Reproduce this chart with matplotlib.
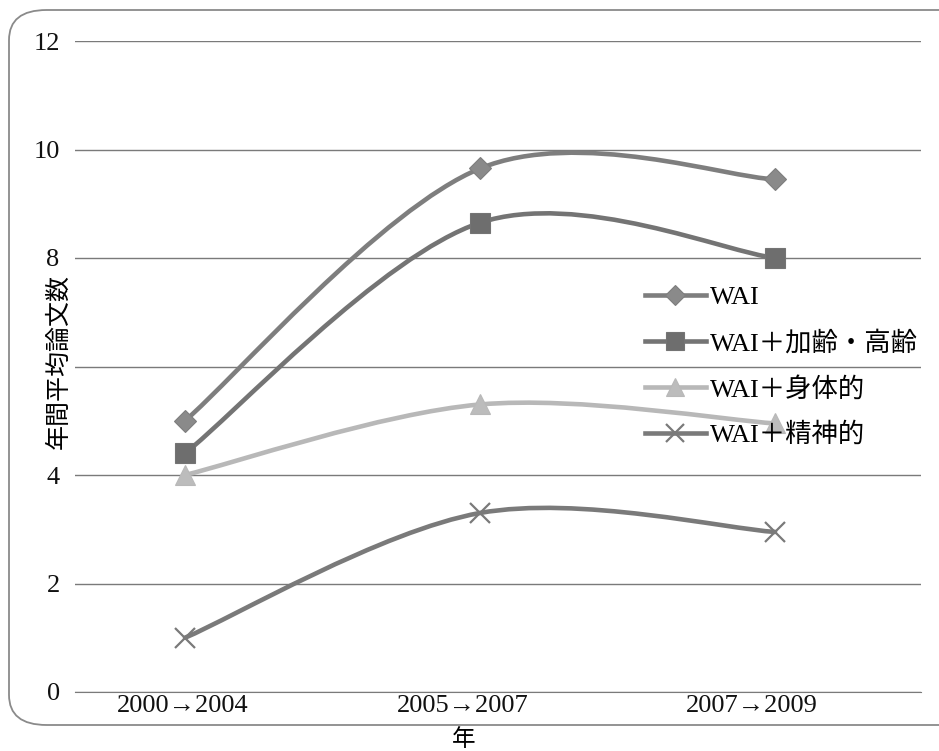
import matplotlib.pyplot as plt
import numpy as np
from matplotlib.path import Path
from matplotlib.patches import PathPatch, FancyBboxPatch
from matplotlib.lines import Line2D
from matplotlib.transforms import ScaledTranslation

# Values
periods = ['2000→2004', '2005→2007', '2007→2009']
series_names = ['WAI', 'WAI＋加齢・高齢', 'WAI＋身体的', 'WAI＋精神的']
wai = [5.0, 9.65, 9.45]
wai_aging = [4.4, 8.65, 8.0]
wai_physical = [4.0, 5.3, 4.95]
wai_mental = [1.0, 3.3, 2.95]

y_ticks = [0, 2, 4, 6, 8, 10, 12]
# the "6" label is hidden under the axis title in the original
y_tick_labels = ['0', '2', '4', '', '8', '10', '12']

FONT = ['Liberation Serif', 'Noto Sans CJK JP', 'DejaVu Serif']
plt.rcParams['font.family'] = FONT

styles = [
    dict(color='#7e7e7e', marker='D', ms=11, mfc='#8a8a8a'),
    dict(color='#747474', marker='s', ms=14, mfc='#6e6e6e'),
    dict(color='#b8b8b8', marker='^', ms=15, mfc='#bcbcbc'),
    dict(color='#7a7a7a', marker='x', ms=14, mfc='none'),
]


def smooth_path(xs, ys):
    # Excel-like smoothed line: Catmull-Rom as cubic Bezier segments
    pts = np.column_stack([xs, ys]).astype(float)
    n = len(pts)
    verts = [pts[0]]
    codes = [Path.MOVETO]
    for i in range(n - 1):
        p0 = pts[i - 1] if i > 0 else pts[i]
        p1, p2 = pts[i], pts[i + 1]
        p3 = pts[i + 2] if i + 2 < n else pts[i + 1]
        c1 = p1 + (p2 - p0) / 6.0
        c2 = p2 - (p3 - p1) / 6.0
        verts += [c1, c2, p2]
        codes += [Path.CURVE4] * 3
    return Path(verts, codes)


def create_plot():
    fig = plt.figure(figsize=(9.39, 7.51), dpi=100)
    ax = fig.add_axes([75 / 939, 1 - 692 / 751, (921 - 75) / 939, (692 - 41) / 751])

    # rounded outer frame
    frame = FancyBboxPatch((9 / 939, 26 / 751), 1.05, 715 / 751,
                           boxstyle='round,pad=0,rounding_size=0.04',
                           transform=fig.transFigure, fill=False,
                           edgecolor='#8a8a8a', linewidth=1.3, zorder=0)
    fig.patches.append(frame)

    x = np.arange(len(periods))
    all_series = [wai, wai_aging, wai_physical, wai_mental]
    handles = []
    for vals, st, name in zip(all_series, styles, series_names):
        mew = 1.6 if st['marker'] == 'x' else 0.8
        patch = PathPatch(smooth_path(x, vals), fill=False, edgecolor=st['color'],
                          linewidth=3.3, zorder=3, capstyle='round')
        ax.add_patch(patch)
        ax.plot(x, vals, linestyle='none', marker=st['marker'], markersize=st['ms'],
                markerfacecolor=st['mfc'], markeredgecolor=st['color'],
                markeredgewidth=mew, zorder=4)
        handles.append(Line2D([], [], color=st['color'], linewidth=3.3,
                              marker=st['marker'], markersize=st['ms'] * 0.9,
                              markerfacecolor=st['mfc'], markeredgecolor=st['color'],
                              markeredgewidth=mew, label=name))

    ax.set_xlim(-110 / 295, 2 + 146 / 295)
    ax.set_ylim(0, 12)
    ax.set_yticks(y_ticks)
    ax.set_yticklabels(y_tick_labels)
    ax.set_xticks(x)
    ax.set_xticklabels(periods)
    ax.tick_params(axis='both', length=0, labelsize=19, colors='#111111')
    ax.tick_params(axis='y', pad=11)
    ax.tick_params(axis='x', pad=2)

    # the scanned labels sit slightly left of their categories
    for lab, dx in zip(ax.get_xticklabels(), [-2, -17, -23]):
        lab.set_transform(lab.get_transform() + ScaledTranslation(dx / 100, 0, fig.dpi_scale_trans))

    ax.grid(axis='y', color='#7a7a7a', linewidth=1.0)
    ax.set_axisbelow(True)
    for s in ['left', 'right', 'top']:
        ax.spines[s].set_visible(False)
    ax.spines['bottom'].set_color('#7a7a7a')

    ax.set_ylabel('年間平均論文数', fontsize=18)
    ax.yaxis.set_label_coords((71 - 75) / 846, (692 - 361) / 651)
    ax.set_xlabel('年', fontsize=17)
    ax.xaxis.set_label_coords((464 - 75) / 846, (692 - 729) / 651)

    leg = ax.legend(handles=handles, loc='upper left',
                    bbox_to_anchor=((645 - 75) / 846, (692 - 286) / 651),
                    frameon=False, fontsize=19, handlelength=2.3,
                    handletextpad=0.15, labelspacing=0.8, borderaxespad=0,
                    borderpad=0)
    leg.set_zorder(5)

    fig.savefig('out.png', dpi=100)


if __name__ == "__main__":
    create_plot()
